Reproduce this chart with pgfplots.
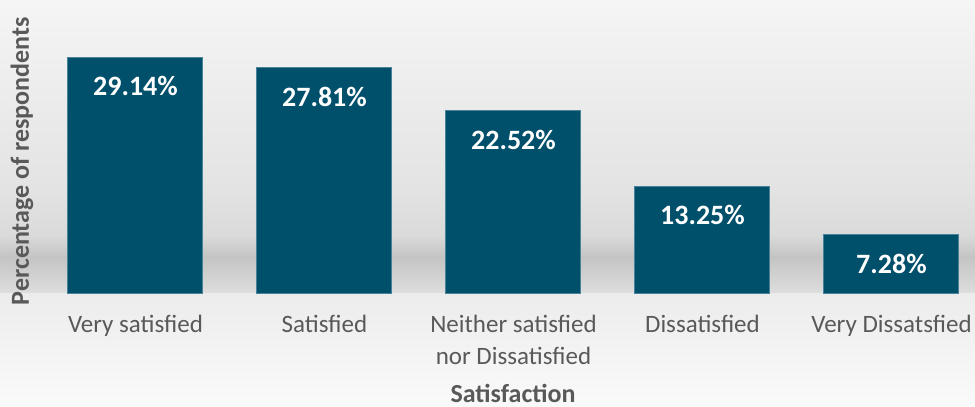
\documentclass[border=0pt]{standalone}
\usepackage{fontspec}
\setmainfont{Carlito}
\usepackage{pgfplots}
\pgfplotsset{compat=1.18}
\definecolor{barc}{RGB}{0,79,107}
\definecolor{bare}{RGB}{75,130,155}
\definecolor{txt}{RGB}{89,89,89}
\definecolor{g1}{RGB}{245,245,245}
\definecolor{g2}{RGB}{227,227,227}
\definecolor{g3}{RGB}{218,218,218}
\definecolor{g4}{RGB}{196,196,196}
\definecolor{g5}{RGB}{222,222,222}
\definecolor{g6}{RGB}{236,236,236}
\definecolor{g7}{RGB}{250,250,250}
\begin{document}
\begin{tikzpicture}
\useasboundingbox (0,0) rectangle (487.5pt,203.5pt);
\shade[top color=g1, bottom color=g2] (0,108.5pt) rectangle (487.5pt,203.5pt);
\shade[top color=g2, bottom color=g3] (0,86pt) rectangle (487.5pt,108.6pt);
\shade[top color=g3, bottom color=g4] (0,75pt) rectangle (487.5pt,86.1pt);
\shade[top color=g4, bottom color=g5] (0,56.5pt) rectangle (487.5pt,75.1pt);
\shade[top color=g6, bottom color=g7] (0,0) rectangle (487.5pt,56.6pt);
\begin{axis}[
  at={(20.5pt,56.5pt)}, anchor=south west,
  scale only axis, width=467pt, height=147pt,
  xmin=-0.5, xmax=4.442, ymin=0, ymax=36.15,
  ybar, bar width=67.5pt,
  axis line style={draw=none},
  ytick=\empty,
  xtick={0,1,2,3,4},
  xticklabels={Very satisfied, Satisfied, {Neither satisfied\\nor Dissatisfied}, Dissatisfied, Very Dissatsfied},
  major tick length=0pt,
  xticklabel style={text=txt, font=\fontsize{12.5}{16}\selectfont, align=center, anchor=north, yshift=-7pt},
  /pgf/number format/assume math mode=true,
  nodes near coords={\pgfmathprintnumber[fixed,fixed zerofill,precision=2]{\pgfplotspointmeta}\%},
  nodes near coords style={text=white, font=\bfseries\fontsize{14}{16}\selectfont, anchor=center, yshift=-14.5pt},
  xlabel={Satisfaction}, ylabel={Percentage of respondents},
  label style={text=txt, font=\bfseries\fontsize{13}{15}\selectfont},
  xlabel style={at={(axis description cs:0.5054,-0.338)}, anchor=center},
  ylabel style={at={(axis description cs:-0.0203,0.452)}, anchor=center},
]
\addplot[fill=barc, draw=bare, line width=0.5pt] coordinates {(0,29.14) (1,27.81) (2,22.52) (3,13.25) (4,7.28)};
\end{axis}
\end{tikzpicture}
\end{document}
